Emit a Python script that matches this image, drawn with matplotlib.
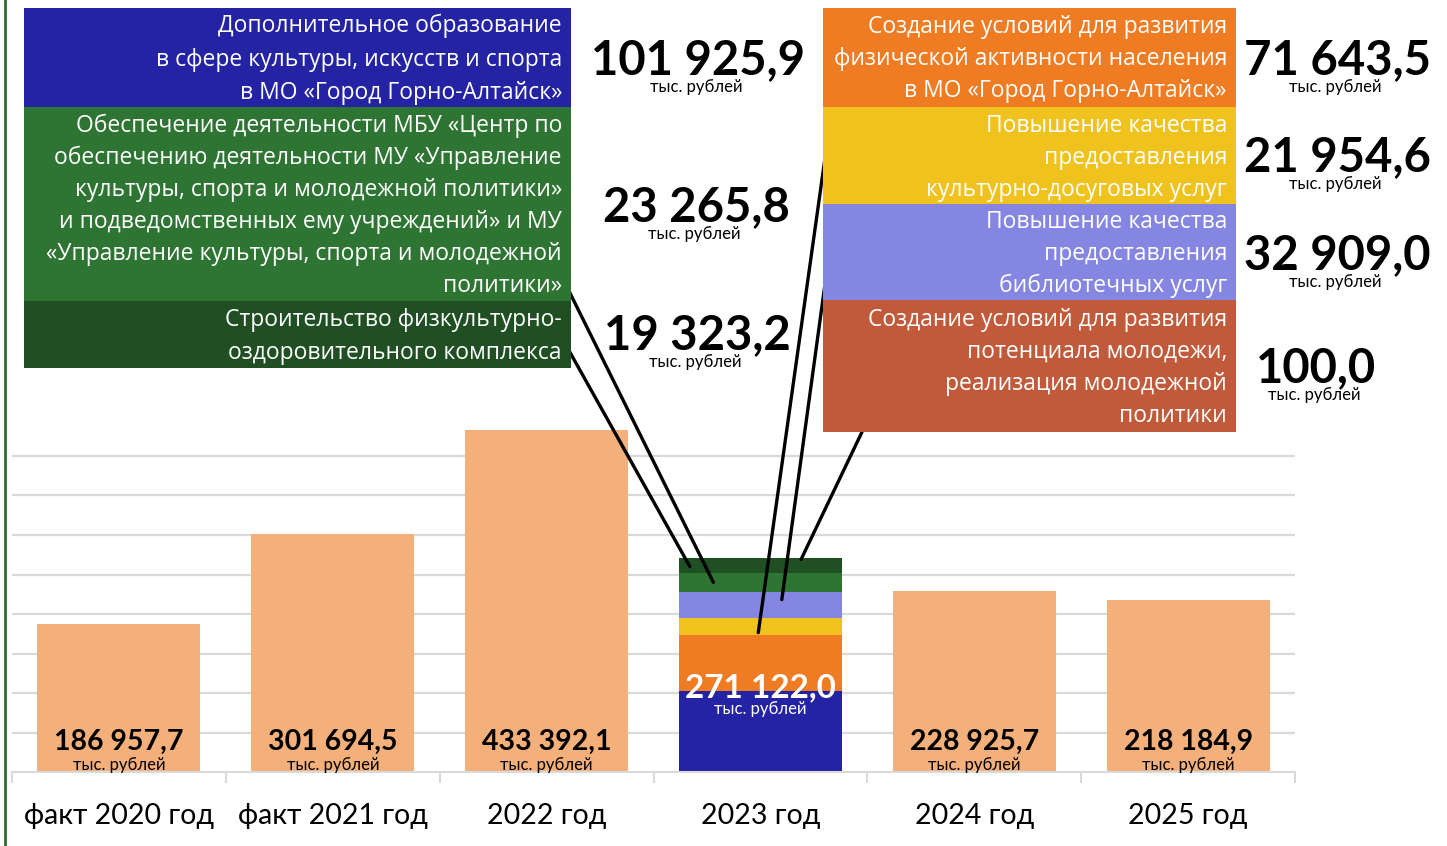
import matplotlib
matplotlib.use("Agg")
import matplotlib.pyplot as plt
import matplotlib.transforms as mtransforms
from matplotlib.patches import Rectangle
from matplotlib.lines import Line2D

# ---------------- data ----------------
categories = ['факт 2020 год', 'факт 2021 год', '2022 год', '2023 год', '2024 год', '2025 год']
totals = [186957.7, 301694.5, 433392.1, 271122.0, 228925.7, 218184.9]

seg_names = [
    'Дополнительное образование\nв сфере культуры, искусств и спорта\nв МО «Город Горно-Алтайск»',
    'Создание условий для развития\nфизической активности населения\nв МО «Город Горно-Алтайск»',
    'Повышение качества\nпредоставления\nкультурно-досуговых услуг',
    'Повышение качества\nпредоставления\nбиблиотечных услуг',
    'Обеспечение деятельности МБУ «Центр по\nобеспечению деятельности МУ «Управление\nкультуры, спорта и молодежной политики»\nи подведомственных ему учреждений» и МУ\n«Управление культуры, спорта и молодежной\nполитики»',
    'Строительство физкультурно-\nоздоровительного комплекса',
    'Создание условий для развития\nпотенциала молодежи,\nреализация молодежной\nполитики',
]
seg_values = [101925.9, 71643.5, 21954.6, 32909.0, 23265.8, 19323.2, 100.0]
seg_colors = ['#2323a3', '#ef7b22', '#f0c21d', '#8585e2', '#2e7533', '#1f4f23', '#c05a3a']

unit = 'тыс. рублей'
bar_color = '#f4b07b'
stack_index = 3

NUM_FONT = ['Lato', 'DejaVu Sans']
BOX_FONT = ['Open Sans', 'DejaVu Sans']

W, H = 1447, 846


def fx(x):
    return x / W


def fy(y):
    return 1 - y / H


def fmt(v):
    return f"{v:,.1f}".replace(',', ' ').replace('.', ',')


fig = plt.figure(figsize=(W / 100, H / 100), dpi=100)
fig.patch.set_facecolor('white')

# axes placement
ymax = 440000
ax = fig.add_axes([fx(12), 74 / H, (1295 - 12) / W, 347.6 / H])
ax.set_xlim(-0.5, len(categories) - 0.5)
ax.set_ylim(0, ymax)
for s in ['top', 'right', 'left']:
    ax.spines[s].set_visible(False)
ax.spines['bottom'].set_color('#d9d9d9')
ax.spines['bottom'].set_linewidth(1.5)
ax.set_yticks([])
for gy in range(50000, 400001, 50000):
    ax.axhline(gy, color='#d9d9d9', lw=1.6, zorder=0)

ax.set_xticks(range(len(categories)))
ax.set_xticklabels(categories, fontsize=20.5, family=NUM_FONT)
ax.tick_params(axis='x', which='major', length=0, pad=22)
ax.set_xticks([i - 0.5 for i in range(len(categories) + 1)], minor=True)
ax.tick_params(axis='x', which='minor', length=8, width=1.5, color='#d9d9d9')

bw = 0.762


def base_text(i, dy_px, s, **kw):
    tr = mtransforms.offset_copy(ax.transData, fig=fig, x=0, y=dy_px, units='dots')
    ax.text(i, 0, s, transform=tr, ha='center', va='center', zorder=4, **kw)


for i, t in enumerate(totals):
    if i == stack_index:
        continue
    ax.bar(i, t, width=bw, color=bar_color, zorder=2)
    base_text(i, 30, fmt(t), fontsize=20.5, fontweight='bold', family=NUM_FONT, color='black')
    base_text(i, 7, unit, fontsize=12, family=NUM_FONT, color='black')

# stacked bar
bottom = 0.0
seg_bottoms = []
for v, col in zip(seg_values, seg_colors):
    seg_bottoms.append(bottom)
    ax.bar(stack_index, v, width=bw, bottom=bottom, color=col, zorder=2)
    bottom += v

tr1 = mtransforms.offset_copy(ax.transData, fig=fig, x=0, y=4, units='dots')
ax.text(stack_index, seg_bottoms[1], fmt(totals[stack_index]), ha='center', va='center',
        transform=tr1, fontsize=24, fontweight='bold', family=NUM_FONT, color='white', zorder=5)
tr2 = mtransforms.offset_copy(ax.transData, fig=fig, x=0, y=-18, units='dots')
ax.text(stack_index, seg_bottoms[1], unit, ha='center', va='center', transform=tr2,
        fontsize=12, family=NUM_FONT, color='white', zorder=5)

# ---------- label boxes ----------
# (segment index, x0, x1, y0, y1, first line center, line step)
boxes = [
    (0, 24, 571, 8, 107, 26, 33.5),
    (4, 24, 571, 107, 301, 126, 32),
    (5, 24, 571, 301, 368, 320, 33),
    (1, 823, 1236, 8, 107, 27, 32),
    (2, 823, 1236, 107, 204, 126, 32),
    (3, 823, 1236, 204, 300, 222, 32),
    (6, 823, 1236, 300, 432, 320, 32),
]
for si, x0, x1, y0, y1, l0, step in boxes:
    fig.add_artist(Rectangle((fx(x0), fy(y1)), fx(x1) - fx(x0), fy(y0) - fy(y1),
                             transform=fig.transFigure, facecolor=seg_colors[si],
                             edgecolor='none', zorder=1))
    for k, line in enumerate(seg_names[si].split('\n')):
        fig.text(fx(x1 - 9), fy(l0 + k * step), line, ha='right', va='center',
                 fontsize=16.5, family=BOX_FONT, color='white', zorder=2)

# value labels next to boxes: (segment index, x center, y center)
value_pos = [
    (0, 698, 60), (4, 696, 207), (5, 697, 335),
    (1, 1337, 60), (2, 1337, 157), (3, 1337, 255), (6, 1316, 368),
]
for si, x, y in value_pos:
    fig.text(fx(x), fy(y), fmt(seg_values[si]), ha='center', va='center',
             fontsize=34, fontweight='bold', family=NUM_FONT, color='black', zorder=3)
    fig.text(fx(x - 2), fy(y + 27), unit, ha='center', va='center',
             fontsize=12, family=NUM_FONT, color='black', zorder=4)

# connector lines: (segment index, start px, x offset in bar, fraction in segment)
connectors = [
    (4, (567, 287), -0.22, 0.50),
    (5, (567, 347), -0.33, 0.43),
    (2, (825, 158), -0.01, 0.13),
    (3, (828, 262), 0.10, 0.69),
    (6, (862, 432), 0.19, -20.0),
]
for si, (sx, sy), dx, frac in connectors:
    yv = seg_bottoms[si] + frac * seg_values[si]
    ax.annotate('', xy=(stack_index + dx, yv), xycoords='data',
                xytext=(fx(sx), fy(sy)), textcoords='figure fraction',
                arrowprops=dict(arrowstyle='-', lw=2.4, color='black',
                                shrinkA=0, shrinkB=0),
                annotation_clip=False, zorder=6)

# left green frame line
fig.add_artist(Line2D([fx(5), fx(5)], [0, 1], transform=fig.transFigure,
                      color='#2e6b30', lw=2))

fig.savefig('out.png', dpi=100)
